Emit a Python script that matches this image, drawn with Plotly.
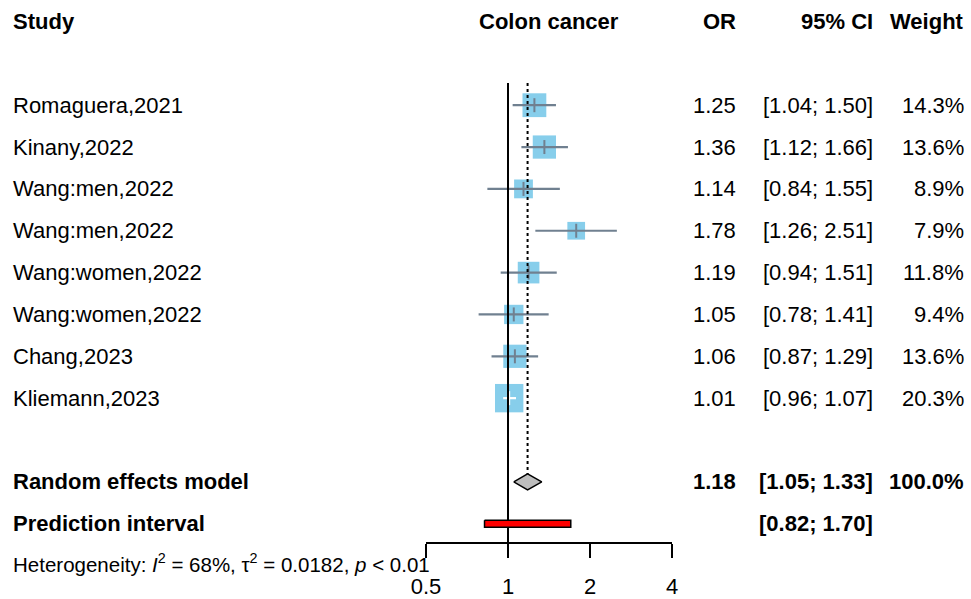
import math
import plotly.graph_objects as go

# ---------------- data ----------------
studies = ["Romaguera,2021", "Kinany,2022", "Wang:men,2022", "Wang:men,2022",
           "Wang:women,2022", "Wang:women,2022", "Chang,2023", "Kliemann,2023"]
odds_ratio = [1.25, 1.36, 1.14, 1.78, 1.19, 1.05, 1.06, 1.01]
ci_lower = [1.04, 1.12, 0.84, 1.26, 0.94, 0.78, 0.87, 0.96]
ci_upper = [1.50, 1.66, 1.55, 2.51, 1.51, 1.41, 1.29, 1.07]
weights = [14.3, 13.6, 8.9, 7.9, 11.8, 9.4, 13.6, 20.3]

re_or, re_lower, re_upper, re_weight = 1.18, 1.05, 1.33, 100.0
pi_lower, pi_upper = 0.82, 1.70
i2_pct, tau2, p_text = 68, 0.0182, "< 0.01"

tick_vals = [0.5, 1, 2, 4]
tick_text = ["0.5", "1", "2", "4"]

headers = ["Study", "Colon cancer", "OR", "95% CI", "Weight"]

# ---------------- layout geometry ----------------
W, H = 971, 599
ROW0_PX, ROW_PX = 21.5, 41.85


def row_of(px):
    return 1 + (px - ROW0_PX) / ROW_PX


AX_L, AX_R, AX_Y = 426, 672, 543
FONT = "Liberation Sans, Arial, sans-serif"
FS = 22
study_rows = [3 + i for i in range(len(studies))]
re_row, pi_row = 12, 13
top_row = row_of(83)

fig = go.Figure()

# squares
sizes = [6.3 * math.sqrt(w) for w in weights]
fig.add_trace(go.Scatter(
    x=odds_ratio, y=study_rows, mode="markers",
    marker=dict(symbol="square", size=sizes, color="#87CEEB", opacity=1,
                line=dict(width=0)),
    hoverinfo="skip", showlegend=False))

# CI lines (white if the CI lies inside the square)
px_per_dec = (AX_R - AX_L) / (math.log10(tick_vals[-1]) - math.log10(tick_vals[0]))
for est, lo, hi, r, s in zip(odds_ratio, ci_lower, ci_upper, study_rows, sizes):
    inside = ((math.log10(est) - math.log10(lo)) * px_per_dec < s / 2 and
              (math.log10(hi) - math.log10(est)) * px_per_dec < s / 2)
    col = "white" if inside else "#708090"
    fig.add_trace(go.Scatter(x=[lo, hi], y=[r, r], mode="lines",
                             line=dict(color=col, width=2.2),
                             hoverinfo="skip", showlegend=False))
    fig.add_trace(go.Scatter(x=[est], y=[r], mode="markers",
                             marker=dict(symbol="line-ns", size=10,
                                         line=dict(color=col, width=2)),
                             hoverinfo="skip", showlegend=False))

# reference line at 1
fig.add_trace(go.Scatter(x=[1, 1], y=[top_row, row_of(AX_Y)], mode="lines",
                         line=dict(color="black", width=2),
                         hoverinfo="skip", showlegend=False))
# dotted line at pooled estimate
dh = 0.19
fig.add_trace(go.Scatter(x=[re_or, re_or], y=[top_row, re_row - dh], mode="lines",
                         line=dict(color="black", width=2, dash="dot"),
                         hoverinfo="skip", showlegend=False))
# diamond
fig.add_trace(go.Scatter(
    x=[re_lower, re_or, re_upper, re_or, re_lower],
    y=[re_row, re_row - dh, re_row, re_row + dh, re_row],
    mode="lines", fill="toself", fillcolor="#BEBEBE",
    line=dict(color="black", width=1.5), hoverinfo="skip", showlegend=False))
# prediction interval
ph = 0.085
fig.add_trace(go.Scatter(
    x=[pi_lower, pi_upper, pi_upper, pi_lower, pi_lower],
    y=[pi_row - ph, pi_row - ph, pi_row + ph, pi_row + ph, pi_row - ph],
    mode="lines", fill="toself", fillcolor="#FF0000",
    line=dict(color="black", width=1.5), hoverinfo="skip", showlegend=False))

# ---------------- text ----------------
col_study = 12 / W
col_or = 737 / W
col_ci = 874 / W
col_wt = 965 / W
col_mid = (AX_L + AX_R) / 2 / W

ann = []


def txt(x, y, s, anchor, bold=False, size=FS):
    ann.append(dict(x=x, y=y, xref="paper", yref="y", text=f"<b>{s}</b>" if bold else s,
                    xanchor=anchor, yanchor="middle", showarrow=False, borderpad=0,
                    font=dict(family=FONT, size=size, color="black")))


for h, x, a in zip(headers, [col_study, col_mid, col_or, col_ci, col_wt],
                   ["left", "center", "right", "right", "right"]):
    txt(x, 1, h, a, bold=True)

for name, est, lo, hi, w, r in zip(studies, odds_ratio, ci_lower, ci_upper, weights, study_rows):
    txt(col_study, r, name, "left")
    txt(col_or, r, f"{est:.2f}", "right")
    txt(col_ci, r, f"[{lo:.2f}; {hi:.2f}]", "right")
    txt(col_wt, r, f"{w:.1f}%", "right")

txt(col_study, re_row, "Random effects model", "left", bold=True)
txt(col_or, re_row, f"{re_or:.2f}", "right", bold=True)
txt(col_ci, re_row, f"[{re_lower:.2f}; {re_upper:.2f}]", "right", bold=True)
txt(col_wt, re_row, f"{re_weight:.1f}%", "right", bold=True)

txt(col_study, pi_row, "Prediction interval", "left", bold=True)
txt(col_ci, pi_row, f"[{pi_lower:.2f}; {pi_upper:.2f}]", "right", bold=True)

het = (f"Heterogeneity: <i>I</i><sup>2</sup> = {i2_pct}%, "
       f"\u03c4<sup>2</sup> = {tau2:.4f}, <i>p</i> {p_text}")
txt(col_study, row_of(563), het, "left", size=20.5)

fig.update_layout(
    template="none",
    width=W, height=H, margin=dict(l=0, r=0, t=0, b=0, pad=0, autoexpand=False),
    autosize=False,
    paper_bgcolor="white", plot_bgcolor="white",
    annotations=ann, showlegend=False,
    xaxis=dict(type="log", domain=[AX_L / W, AX_R / W],
               range=[math.log10(tick_vals[0]), math.log10(tick_vals[-1])],
               anchor="free", position=(H - AX_Y) / H, automargin=False,
               showline=True, linecolor="black", linewidth=2,
               ticks="outside", ticklen=14, tickwidth=2, tickcolor="black",
               tickvals=tick_vals, ticktext=tick_text, ticklabelstandoff=10,
               tickfont=dict(family=FONT, size=FS, color="black"),
               showgrid=False, zeroline=False, fixedrange=True),
    yaxis=dict(domain=[0, 1], range=[row_of(H), row_of(0)], visible=False,
               automargin=False,
               showgrid=False, zeroline=False, fixedrange=True),
)
for tr in fig.data:
    tr.cliponaxis = False

fig.write_html("out.html")
